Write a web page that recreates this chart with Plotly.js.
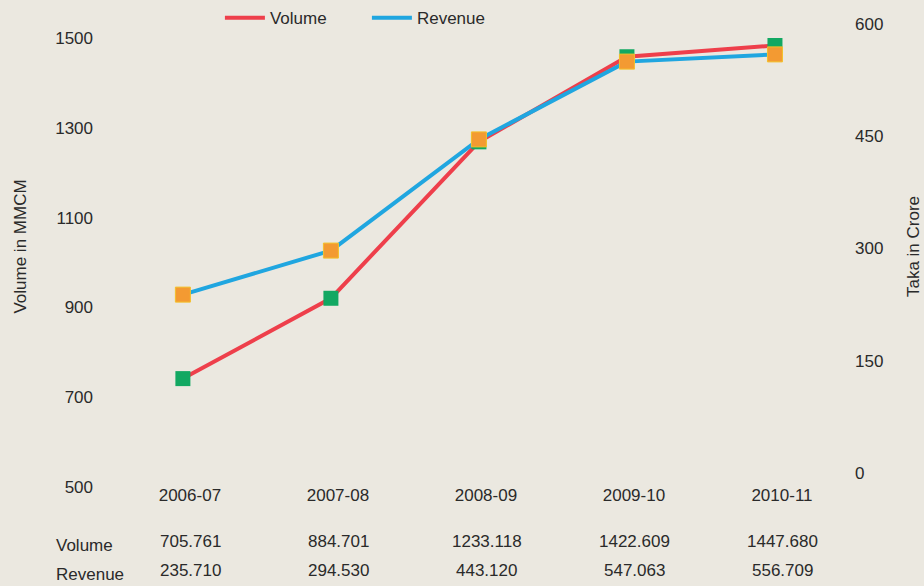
<!DOCTYPE html>
<html>
<head>
<meta charset="utf-8">
<script src="https://cdn.plot.ly/plotly-3.0.1.min.js"></script>
<style>
  html, body { margin: 0; padding: 0; background: #ebe8e0; }
  #chart { width: 924px; height: 586px; }
</style>
</head>
<body>
<div id="chart"></div>
<script>
var years = ['2006-07', '2007-08', '2008-09', '2009-10', '2010-11'];
var volume = [705.761, 884.701, 1233.118, 1422.609, 1447.680];
var revenue = [235.710, 294.530, 443.120, 547.063, 556.709];
var volumeText = ['705.761', '884.701', '1233.118', '1422.609', '1447.680'];
var revenueText = ['235.710', '294.530', '443.120', '547.063', '556.709'];

var red = '#ee3f4b';
var blue = '#20a6e0';
var green = '#12a862';
var orange = '#f39a32';
var textColor = '#2a2a2a';
var fontFamily = 'Liberation Sans, Arial, sans-serif';

function drawChart() {
  var plotData = [
    {
      x: years, y: volume, name: 'Volume', yaxis: 'y',
      type: 'scatter', mode: 'lines',
      line: { color: red, width: 4 }
    },
    {
      x: years, y: revenue, name: 'Revenue', yaxis: 'y2',
      type: 'scatter', mode: 'lines',
      line: { color: blue, width: 4 }
    },
    {
      x: years, y: revenue, yaxis: 'y2', showlegend: false,
      type: 'scatter', mode: 'markers', hoverinfo: 'skip',
      marker: { symbol: 'square', size: 15, color: orange,
        line: { color: '#f4c02a', width: 1 } }
    },
    {
      x: years, y: volume, yaxis: 'y', showlegend: false,
      type: 'scatter', mode: 'markers', hoverinfo: 'skip',
      marker: { symbol: 'square', size: 15, color: green,
        line: { width: 0 } }
    }
  ];

  var annotations = [
    { text: 'Volume', xref: 'paper', yref: 'paper', x: -0.061, y: -0.167,
      xanchor: 'left', yanchor: 'middle', showarrow: false },
    { text: 'Revenue', xref: 'paper', yref: 'paper', x: -0.061, y: -0.231,
      xanchor: 'left', yanchor: 'middle', showarrow: false }
  ];
  for (var i = 0; i < years.length; i++) {
    annotations.push({ text: volumeText[i], x: years[i], xref: 'x', yref: 'paper',
      y: -0.157, xshift: 8, yanchor: 'middle', showarrow: false });
    annotations.push({ text: revenueText[i], x: years[i], xref: 'x', yref: 'paper',
      y: -0.221, xshift: 8, yanchor: 'middle', showarrow: false });
  }
  annotations.forEach(function (a) {
    a.font = { family: fontFamily, size: 17, color: textColor };
  });

  var layout = {
    width: 924,
    height: 586,
    margin: { l: 100, r: 74, t: 22, b: 115, autoexpand: false },
    paper_bgcolor: '#ebe8e0',
    plot_bgcolor: '#ebe8e0',
    font: { family: fontFamily, size: 17, color: textColor },
    showlegend: true,
    legend: {
      orientation: 'h', xref: 'container', yref: 'container',
      x: 0.238, y: 0.969, xanchor: 'left', yanchor: 'middle',
      bgcolor: 'rgba(0,0,0,0)', font: { size: 17, color: textColor },
      itemwidth: 40, entrywidth: 92, entrywidthmode: 'pixels'
    },
    xaxis: {
      type: 'category', automargin: false,
      range: [-0.56, 4.507],
      showgrid: false, zeroline: false, showline: false,
      ticks: '', ticklabelshift: 7, ticklabelstandoff: 12,
      tickfont: { size: 17 }
    },
    yaxis: {
      range: [500, 1500], automargin: false,
      tickvals: [500, 700, 900, 1100, 1300, 1500],
      showgrid: false, zeroline: false, showline: false,
      ticks: '', ticklabelshift: 16, ticklabelstandoff: 6,
      tickfont: { size: 17 },
      title: { text: 'Volume in MMCM', font: { size: 17 }, standoff: 24 }
    },
    yaxis2: {
      range: [0, 600], automargin: false,
      tickvals: [0, 150, 300, 450, 600],
      overlaying: 'y', side: 'right',
      showgrid: false, zeroline: false, showline: false,
      ticks: '', ticklabelshift: 2, ticklabelstandoff: 4,
      tickfont: { size: 17 },
      title: { text: 'Taka in Crore', font: { size: 17 }, standoff: 24 }
    },
    annotations: annotations
  };

  Plotly.newPlot('chart', plotData, layout, { displayModeBar: false, staticPlot: true });
}

document.addEventListener('DOMContentLoaded', drawChart);
</script>
</body>
</html>
